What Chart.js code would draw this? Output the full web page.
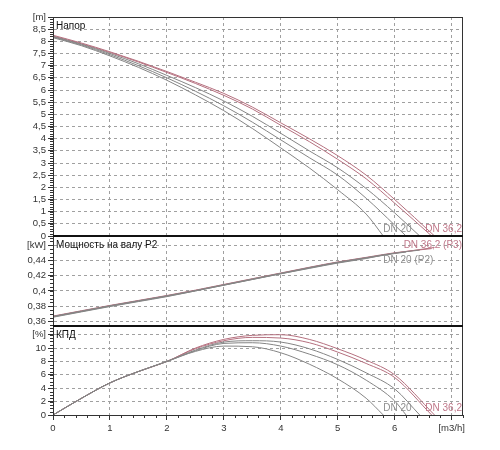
<!DOCTYPE html>
<html>
<head>
<meta charset="utf-8">
<script src="https://cdn.jsdelivr.net/npm/chart.js@4.4.1/dist/chart.umd.min.js"></script>
<style>
html, body { margin: 0; padding: 0; background: #fff; }
#wrap { width: 500px; height: 450px; }
</style>
</head>
<body>
<div id="wrap"><canvas id="pumpChart" width="500" height="450"></canvas></div>
<script>
// flow points per curve [m3/h]
const flowA = [0, 0.5, 1, 1.5, 2, 2.5, 3, 3.5, 4, 4.5, 5, 5.5, 5.8];
const flowB = [0, 0.5, 1, 1.5, 2, 2.5, 3, 3.5, 4, 4.5, 5, 5.5, 6, 6.2];
const flowC = [0, 0.5, 1, 1.5, 2, 2.5, 3, 3.5, 4, 4.5, 5, 5.5, 6, 6.44];
const flowD = [0, 0.5, 1, 1.5, 2, 2.5, 3, 3.5, 4, 4.5, 5, 5.5, 6, 6.65];
const flowE = [0, 0.5, 1, 1.5, 2, 2.5, 3, 3.5, 4, 4.5, 5, 5.5, 6, 6.7];

// head [m]
const headA = [8.15, 7.82, 7.4, 6.93, 6.4, 5.8, 5.15, 4.42, 3.62, 2.8, 1.9, 0.9, 0];
const headB = [8.18, 7.85, 7.45, 7.0, 6.5, 5.95, 5.35, 4.68, 3.95, 3.22, 2.5, 1.55, 0.45, 0];
const headC = [8.2, 7.88, 7.5, 7.08, 6.6, 6.1, 5.55, 4.92, 4.22, 3.5, 2.8, 1.95, 0.95, 0];
const headD = [8.22, 7.9, 7.54, 7.15, 6.72, 6.27, 5.78, 5.22, 4.55, 3.88, 3.15, 2.35, 1.35, 0];
const headE = [8.25, 7.93, 7.57, 7.18, 6.76, 6.32, 5.86, 5.3, 4.65, 4.0, 3.3, 2.5, 1.5, 0];

// shaft power P2 [kW]
const powerA = [0.3655, 0.3725, 0.3795, 0.386, 0.3925, 0.4, 0.4075, 0.415, 0.4225, 0.4295, 0.4365, 0.4425, 0.447];
const powerB = [0.366, 0.373, 0.38, 0.3865, 0.393, 0.4, 0.4075, 0.415, 0.4225, 0.43, 0.437, 0.443, 0.449, 0.451];
const powerC = [0.3665, 0.3735, 0.3805, 0.387, 0.3935, 0.4005, 0.408, 0.4155, 0.423, 0.4305, 0.4375, 0.4435, 0.4495, 0.4535];
const powerD = [0.367, 0.374, 0.381, 0.3875, 0.394, 0.401, 0.4085, 0.416, 0.4235, 0.431, 0.438, 0.444, 0.45, 0.4555];
const powerE = [0.3665, 0.3735, 0.3805, 0.387, 0.3935, 0.4005, 0.408, 0.4155, 0.423, 0.4305, 0.4375, 0.4435, 0.4495, 0.457];

// efficiency [%]
const effA = [0, 2.5, 4.8, 6.5, 8.0, 9.5, 10.3, 10.2, 9.3, 7.6, 5.4, 2.5, 0];
const effB = [0, 2.5, 4.8, 6.5, 8.0, 9.6, 10.7, 10.8, 10.3, 9.1, 7.5, 5.2, 2.1, 0];
const effC = [0, 2.5, 4.8, 6.5, 8.0, 9.7, 10.9, 11.1, 10.9, 9.9, 8.3, 6.3, 3.9, 0];
const effD = [0, 2.5, 4.8, 6.5, 8.0, 9.9, 11.1, 11.6, 11.5, 10.8, 9.4, 7.7, 5.6, 0];
const effE = [0, 2.5, 4.8, 6.5, 8.0, 10.0, 11.3, 11.9, 12.0, 11.3, 9.9, 8.2, 6.0, 0];

// axis ticks
const xTicks = [0, 1, 2, 3, 4, 5, 6, 7];
const headTicks = [0, 0.5, 1, 1.5, 2, 2.5, 3, 3.5, 4, 4.5, 5, 5.5, 6, 6.5, 7, 7.5, 8, 8.5, 9];
const powerTicks = [0.36, 0.38, 0.4, 0.42, 0.44, 0.46];
const effTicks = [0, 2, 4, 6, 8, 10, 12];

const panelTitles = ['Напор', 'Мощность на валу P2', 'КПД'];

const GRAY = '#858585';
const RED = '#b5707f';
const GRAY_TXT = '#8f8f8f';
const RED_TXT = '#c0788a';
const lineColors = [GRAY, GRAY, GRAY, RED, RED];
const flows = [flowA, flowB, flowC, flowD, flowE];

function pts(qs, vs) {
    return qs.map((q, i) => ({ x: q, y: vs[i] }));
}

function makeSets(values, axisId) {
    return values.map((vals, i) => ({
        data: pts(flows[i], vals),
        yAxisID: axisId,
        borderColor: lineColors[i],
        borderWidth: 1,
        pointRadius: 0,
        fill: false,
        cubicInterpolationMode: 'monotone'
    }));
}

const datasets = [
    ...makeSets([headA, headB, headC, headD, headE], 'yHead'),
    ...makeSets([powerA, powerB, powerC, powerD, powerE], 'yPow'),
    ...makeSets([effA, effB, effC, effD, effE], 'yEff')
];

// labels at curve ends: dataset index, text, colour, vertical offset
const curveLabels = [
    { ds: 0, text: 'DN 20', color: GRAY_TXT, dy: -7 },
    { ds: 4, text: 'DN 36,2', color: RED_TXT, dy: -7 },
    { ds: 9, text: 'DN 36,2 (P3)', color: RED_TXT, dy: -2 },
    { ds: 5, text: 'DN 20 (P2)', color: GRAY_TXT, dy: 5 },
    { ds: 10, text: 'DN 20', color: GRAY_TXT, dy: -7 },
    { ds: 14, text: 'DN 36,2', color: RED_TXT, dy: -7 }
];

const FONT = '"Liberation Sans", Arial, sans-serif';
const tickFont = { family: FONT, size: 9.5 };
const gridOpts = { color: '#a0a0a0', tickColor: '#333', tickLength: 5, borderDash: [3, 3] };
const borderOpts = { color: '#222', dash: [3, 3] };

function comma(v) {
    return String(+v.toFixed(3)).replace('.', ',');
}

function yAxis(min, max, ticks, unit, weight) {
    return {
        type: 'linear',
        position: 'left',
        stack: 'panels',
        stackWeight: weight,
        offset: false,
        min: min,
        max: max,
        afterBuildTicks: s => { s.ticks = ticks.map(v => ({ value: v })); },
        afterFit: s => { s.width = 53; },
        ticks: {
            font: tickFont,
            color: '#333',
            padding: 2,
            autoSkip: false,
            callback: v => v === ticks[ticks.length - 1] ? unit : comma(v)
        },
        grid: gridOpts,
        border: borderOpts
    };
}

const panelPlugin = {
    id: 'panels',
    afterDraw(chart) {
        const ctx = chart.ctx;
        const a = chart.chartArea;
        const sx = chart.scales.x;
        const panels = [chart.scales.yHead, chart.scales.yPow, chart.scales.yEff];
        ctx.save();
        ctx.setLineDash([]);

        // minor ticks
        ctx.strokeStyle = '#333';
        ctx.lineWidth = 1;
        ctx.beginPath();
        for (let k = 0; k <= 36; k++) {
            if (k % 5 === 0) continue;
            const px = Math.round(sx.getPixelForValue(k * 0.2)) + 0.5;
            ctx.moveTo(px, a.bottom);
            ctx.lineTo(px, a.bottom + 3);
        }
        const minor = [[chart.scales.yHead, 0, 0.1, 90], [chart.scales.yPow, 0.355, 0.005, 23], [chart.scales.yEff, 0, 0.5, 26]];
        minor.forEach(([s, start, step, n]) => {
            for (let k = 0; k <= n; k++) {
                const py = Math.round(s.getPixelForValue(start + k * step)) + 0.5;
                if (py < s.top || py > s.bottom) continue;
                ctx.moveTo(a.left - 3, py);
                ctx.lineTo(a.left, py);
            }
        });
        ctx.stroke();

        // frame and panel separators
        ctx.strokeStyle = '#333';
        ctx.lineWidth = 1;
        ctx.strokeRect(a.left + 0.5, a.top + 0.5, a.right - a.left - 1, a.bottom - a.top);
        ctx.strokeStyle = '#111';
        ctx.lineWidth = 2;
        ctx.beginPath();
        [chart.scales.yPow.top, chart.scales.yEff.top].forEach(y => {
            ctx.moveTo(a.left, y);
            ctx.lineTo(a.right, y);
        });
        ctx.stroke();

        // panel titles
        ctx.font = '10px ' + FONT;
        ctx.fillStyle = '#111';
        ctx.textBaseline = 'middle';
        ctx.textAlign = 'left';
        panels.forEach((s, i) => ctx.fillText(panelTitles[i], a.left + 3, s.top + 9));

        // curve end labels
        curveLabels.forEach(l => {
            const meta = chart.getDatasetMeta(l.ds);
            const last = meta.data[meta.data.length - 1];
            const w = ctx.measureText(l.text).width;
            const x = Math.min(last.x, a.right - w - 1);
            ctx.fillStyle = l.color;
            ctx.fillText(l.text, x, last.y + l.dy);
        });
        ctx.restore();
    }
};

new Chart(document.getElementById('pumpChart'), {
    type: 'line',
    data: { datasets: datasets },
    options: {
        responsive: false,
        animation: false,
        events: [],
        layout: { padding: { top: 17, right: 37, bottom: 0, left: 0 } },
        plugins: { legend: { display: false }, tooltip: { enabled: false } },
        scales: {
            x: {
                type: 'linear',
                min: 0,
                max: 7.2,
                afterBuildTicks: s => { s.ticks = xTicks.map(v => ({ value: v })); },
                afterFit: s => { s.height = 35; },
                ticks: {
                    font: tickFont,
                    color: '#333',
                    padding: 3,
                    maxRotation: 0,
                    autoSkip: false,
                    callback: v => v === 7 ? '[m3/h]' : String(v)
                },
                grid: gridOpts,
                border: borderOpts
            },
            yEff: yAxis(0, 13.3, effTicks, '[%]', 89),
            yPow: yAxis(0.354, 0.472, powerTicks, '[kW]', 90),
            yHead: yAxis(0, 9, headTicks, '[m]', 219)
        }
    },
    plugins: [panelPlugin]
});
</script>
</body>
</html>
